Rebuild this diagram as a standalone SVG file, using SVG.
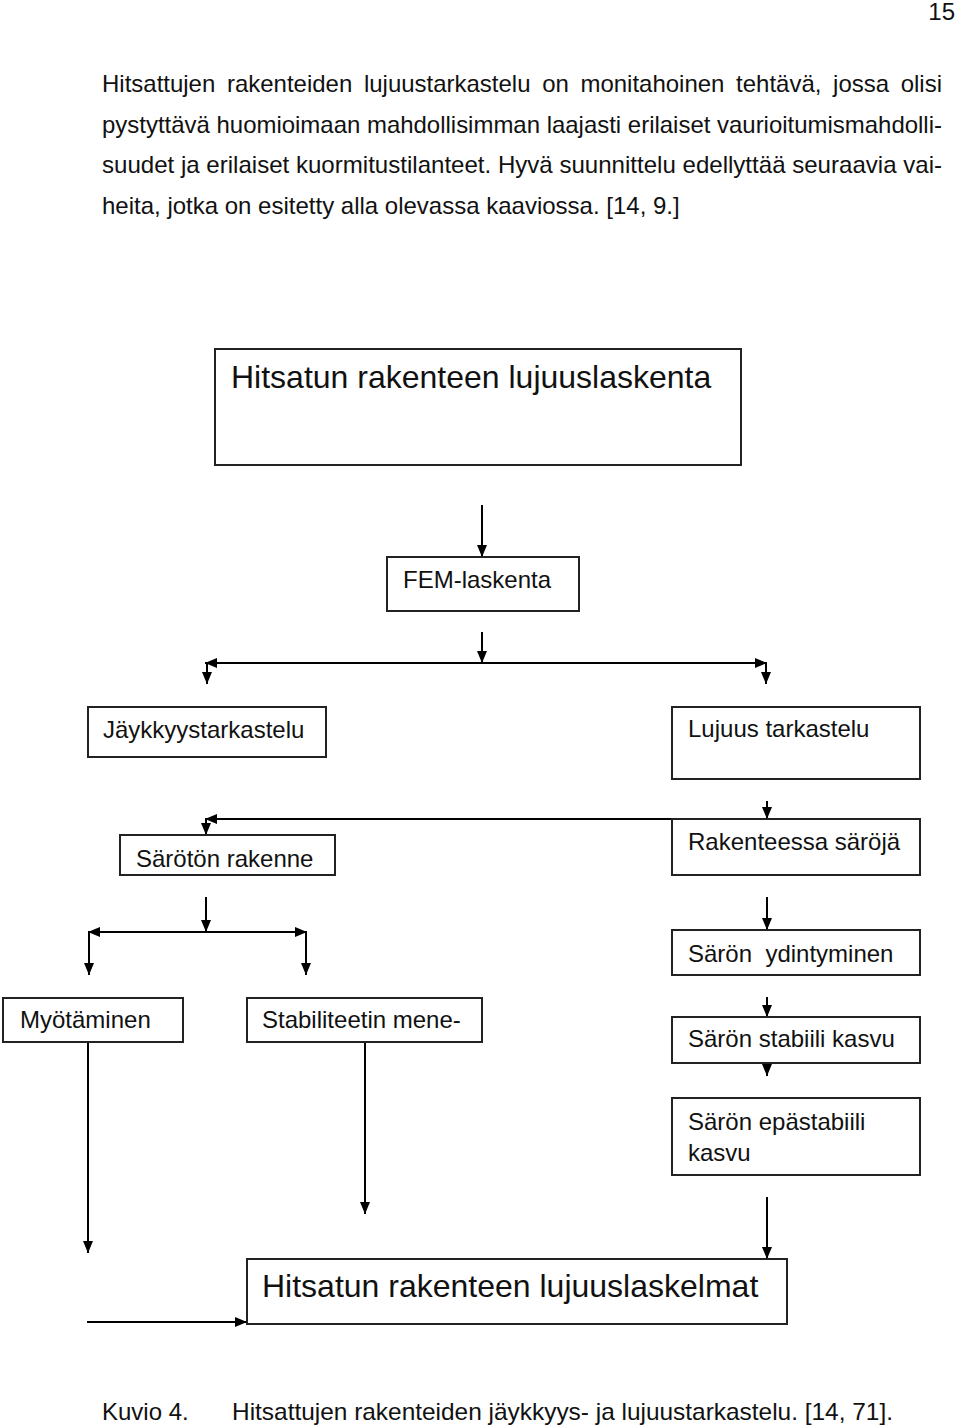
<svg xmlns="http://www.w3.org/2000/svg" width="960" height="1425" viewBox="0 0 960 1425">
<defs>
<marker id="ah" viewBox="0 0 12 10" refX="12" refY="5" markerWidth="12" markerHeight="10" markerUnits="userSpaceOnUse" orient="auto-start-reverse">
<path d="M0,0 L12,5 L0,10 z" fill="#000"/>
</marker>
<style>
.body{font-family:"Liberation Sans",Arial,sans-serif;font-size:24px;fill:#111}
.lbl{font-family:"Liberation Sans",Arial,sans-serif;font-size:24px;fill:#111}
.big{font-family:"Liberation Sans",Arial,sans-serif;font-size:32px;fill:#111}
.box{fill:#fff;stroke:#222;stroke-width:2}
.c{fill:none;stroke:#000;stroke-width:2}
.a{marker-end:url(#ah)}
.s{marker-start:url(#ah)}
</style>
</defs>
<rect width="960" height="1425" fill="#fff"/>
<g id="page-text">
<text class="body" x="955" y="20" font-size="20" text-anchor="end">15</text>
<text class="body" x="102" y="92" word-spacing="5" textLength="840" lengthAdjust="spacingAndGlyphs">Hitsattujen rakenteiden lujuustarkastelu on monitahoinen tehtävä, jossa olisi</text>
<text class="body" x="102" y="133" textLength="840" lengthAdjust="spacingAndGlyphs">pystyttävä huomioimaan mahdollisimman laajasti erilaiset vaurioitumismahdolli-</text>
<text class="body" x="102" y="173" textLength="840" lengthAdjust="spacingAndGlyphs">suudet ja erilaiset kuormitustilanteet. Hyvä suunnittelu edellyttää seuraavia vai-</text>
<text class="body" x="102" y="214">heita, jotka on esitetty alla olevassa kaaviossa. [14, 9.]</text>
<text class="body" x="102" y="1420">Kuvio 4.</text>
<text class="body" x="232" y="1420" textLength="661" lengthAdjust="spacingAndGlyphs">Hitsattujen rakenteiden jäykkyys- ja lujuustarkastelu. [14, 71].</text>
</g>
<g id="connectors">
<line class="c a" x1="482" y1="505" x2="482" y2="557"/>
<line class="c a" x1="482" y1="632" x2="482" y2="663"/>
<line class="c a s" x1="205" y1="663" x2="767" y2="663"/>
<line class="c a" x1="207" y1="663" x2="207" y2="684"/>
<line class="c a" x1="766" y1="663" x2="766" y2="684"/>
<line class="c a" x1="767" y1="801" x2="767" y2="819"/>
<line class="c s" x1="205" y1="819" x2="672" y2="819"/>
<line class="c a" x1="206" y1="819" x2="206" y2="835"/>
<line class="c a" x1="206" y1="897" x2="206" y2="932"/>
<line class="c a s" x1="88" y1="932" x2="307" y2="932"/>
<line class="c a" x1="89" y1="932" x2="89" y2="975"/>
<line class="c a" x1="306" y1="932" x2="306" y2="975"/>
<line class="c a" x1="767" y1="897" x2="767" y2="930"/>
<line class="c a" x1="767" y1="997" x2="767" y2="1017"/>
<line class="c a" x1="767" y1="1063" x2="767" y2="1076"/>
<line class="c a" x1="767" y1="1197" x2="767" y2="1259"/>
<line class="c a" x1="88" y1="1042" x2="88" y2="1253"/>
<line class="c a" x1="365" y1="1042" x2="365" y2="1214"/>
<line class="c a" x1="87" y1="1322" x2="247" y2="1322"/>
</g>
<g id="n-top">
<rect class="box" x="215" y="349" width="526" height="116"/>
<text class="big" x="231" y="388">Hitsatun rakenteen lujuuslaskenta</text>
</g>
<g id="n-fem">
<rect class="box" x="387" y="557" width="192" height="54"/>
<text class="lbl" x="403" y="588">FEM-laskenta</text>
</g>
<g id="n-jaykkyys">
<rect class="box" x="88" y="707" width="238" height="50"/>
<text class="lbl" x="103" y="738">Jäykkyystarkastelu</text>
</g>
<g id="n-lujuus">
<rect class="box" x="672" y="707" width="248" height="72"/>
<text class="lbl" x="688" y="737">Lujuus tarkastelu</text>
</g>
<g id="n-sarot">
<rect class="box" x="120" y="835" width="215" height="40"/>
<text class="lbl" x="136" y="867">Särötön rakenne</text>
</g>
<g id="n-saroja">
<rect class="box" x="672" y="819" width="248" height="56"/>
<text class="lbl" x="688" y="850">Rakenteessa säröjä</text>
</g>
<g id="n-ydintyminen">
<rect class="box" x="672" y="930" width="248" height="45"/>
<text class="lbl" x="688" y="962" xml:space="preserve">Särön  ydintyminen</text>
</g>
<g id="n-myotaminen">
<rect class="box" x="3" y="998" width="180" height="44"/>
<text class="lbl" x="20" y="1028">Myötäminen</text>
</g>
<g id="n-stabiliteetin">
<rect class="box" x="247" y="998" width="235" height="44"/>
<text class="lbl" x="262" y="1028">Stabiliteetin mene-</text>
</g>
<g id="n-stabiili">
<rect class="box" x="672" y="1017" width="248" height="46"/>
<text class="lbl" x="688" y="1047">Särön stabiili kasvu</text>
</g>
<g id="n-epastabiili">
<rect class="box" x="672" y="1098" width="248" height="77"/>
<text class="lbl" x="688" y="1130">Särön epästabiili</text>
<text class="lbl" x="688" y="1161">kasvu</text>
</g>
<g id="n-final">
<rect class="box" x="247" y="1259" width="540" height="65"/>
<text class="big" x="262" y="1297">Hitsatun rakenteen lujuuslaskelmat</text>
</g>
</svg>
